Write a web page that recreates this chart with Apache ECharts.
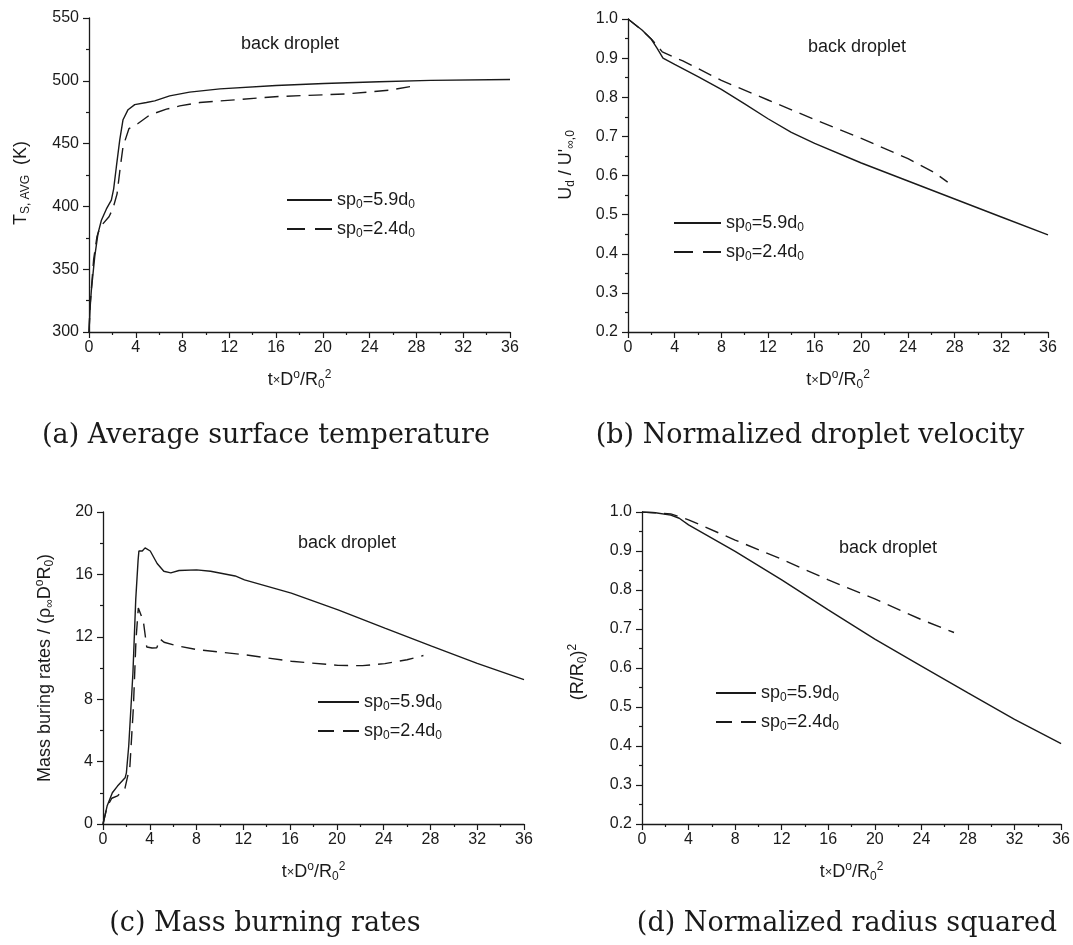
<!DOCTYPE html>
<html>
<head>
<meta charset="utf-8">
<script src="https://cdn.jsdelivr.net/npm/echarts@6/dist/echarts.min.js"></script>
<style>
  html, body { margin: 0; padding: 0; background: #fff; }
  #chart { width: 1073px; height: 945px; }
</style>
</head>
<body>
<div id="chart"></div>
<script>
// (a) average surface temperature
const tTempSolid = [0, 0.1, 0.2, 0.49, 0.77, 1.06, 1.49, 1.91, 2.11, 2.34, 2.63, 2.91, 3.34, 3.91, 4.91, 5.62, 6.9, 8.6, 11.2, 16, 20.1, 24.8, 29.2, 36];
const tempSolid = [300, 320, 333, 360, 378.5, 389, 398, 405, 414, 431.6, 453, 469, 477, 481, 482.7, 484, 488, 491, 493.6, 496.3, 497.9, 499.2, 500.3, 501];
const tTempDash = [0, 0.1, 0.4, 0.68, 0.97, 1.71, 2.05, 2.4, 2.68, 2.91, 3.42, 4.19, 5.19, 6.62, 7.76, 9.47, 16.2, 21.9, 25.7, 28];
const tempDash = [300, 322, 358, 376, 383.8, 391.7, 398.4, 410, 431.6, 447.6, 462, 466, 472.8, 477.4, 480, 482.7, 487.5, 489.5, 492.5, 496.3];

// (b) normalized droplet velocity
const tVelSolid = [0, 1.2, 2.0, 2.5, 3.0, 4.0, 6.0, 8.0, 10, 12, 14, 16, 20, 24, 28, 32, 36];
const velSolid = [1.0, 0.972, 0.948, 0.925, 0.9, 0.884, 0.853, 0.82, 0.783, 0.745, 0.71, 0.682, 0.632, 0.586, 0.54, 0.494, 0.448];
const tVelDash = [0, 1.2, 2.06, 2.94, 4.1, 4.7, 8, 12, 16, 20, 24, 26.3, 27.4];
const velDash = [1.0, 0.971, 0.947, 0.916, 0.9, 0.893, 0.843, 0.793, 0.743, 0.695, 0.643, 0.607, 0.583];

// (c) mass burning rates
const tMassSolid = [0, 0.35, 0.8, 1.24, 1.89, 2.0, 2.2, 2.56, 2.8, 3.0, 3.07, 3.36, 3.6, 4.04, 4.63, 5.2, 5.8, 6.5, 8.0, 9.2, 11.3, 12.1, 16.1, 20.1, 24.1, 28.1, 32, 36];
const massSolid = [0, 1.15, 2.0, 2.43, 2.96, 3.28, 5.0, 9.7, 14.4, 16.9, 17.5, 17.5, 17.7, 17.5, 16.7, 16.2, 16.1, 16.25, 16.29, 16.2, 15.9, 15.65, 14.8, 13.73, 12.56, 11.4, 10.3, 9.25];
const tMassDash = [0, 0.35, 0.75, 1.24, 1.88, 2.3, 2.6, 2.82, 3.02, 3.45, 3.74, 4.2, 4.6, 4.88, 5.22, 6.3, 8.0, 12.1, 16.1, 20.1, 22.2, 24.1, 26.0, 27.4];
const massDash = [0, 1.1, 1.65, 1.8, 2.3, 3.7, 7.5, 11.8, 13.85, 13.0, 11.35, 11.28, 11.3, 11.86, 11.65, 11.43, 11.18, 10.85, 10.43, 10.17, 10.15, 10.28, 10.53, 10.8];

// (d) normalized radius squared
const tRadSolid = [0, 1.16, 2.47, 3.2, 4, 8, 12, 16, 20, 24, 28, 32, 36];
const radSolid = [1.0, 0.998, 0.992, 0.984, 0.967, 0.899, 0.826, 0.749, 0.674, 0.605, 0.536, 0.468, 0.406];
const tRadDash = [0, 1.16, 2.47, 3.2, 4, 8, 12, 16, 20, 24, 26.8];
const radDash = [1.0, 0.998, 0.995, 0.988, 0.98, 0.928, 0.879, 0.826, 0.777, 0.724, 0.691];

const NAME_59 = 'sp0=5.9d0';
const NAME_24 = 'sp0=2.4d0';

const INK = '#1a1a1a';
const SANS = 'Liberation Sans, Arial, sans-serif';
const SERIF = 'DejaVu Serif, serif';

const rich = {
  n: { fontSize: 18, lineHeight: 22, color: INK, fontFamily: SANS },
  s: { fontSize: 12, lineHeight: 10, verticalAlign: 'bottom', color: INK, fontFamily: SANS },
  p: { fontSize: 12, lineHeight: 10, verticalAlign: 'top', color: INK, fontFamily: SANS },
  x: { fontSize: 13, lineHeight: 22, color: INK, fontFamily: SANS },
};

const pairs = (xs, ys) => xs.map((x, i) => [x, ys[i]]);

const chart = echarts.init(document.getElementById('chart'), null, { renderer: 'canvas' });

const grids = [
  { left: 89, top: 18, width: 421, height: 314 },
  { left: 628, top: 19, width: 420, height: 313 },
  { left: 103, top: 512, width: 421, height: 312 },
  { left: 642, top: 512, width: 421, height: 312 },
];

const axisCommon = {
  axisLine: { lineStyle: { color: INK, width: 1.3 } },
  axisTick: { inside: false, length: 6, lineStyle: { color: INK, width: 1.2 } },
  minorTick: { show: true, splitNumber: 2, length: 3, lineStyle: { color: INK, width: 1.2 } },
  splitLine: { show: false },
  axisLabel: { color: INK, fontSize: 16, fontFamily: SANS },
};

const xAxisCfg = (gi) => ({
  type: 'value', gridIndex: gi, min: 0, max: 36, interval: 4,
  ...axisCommon,
  axisLabel: { ...axisCommon.axisLabel, margin: 8 },
  name: '{n|t}{x|×}{n|D}{p|o}{n|/R}{s|0}{p|2}',
  nameLocation: 'middle', nameGap: 37,
  nameTextStyle: { rich },
});

const yAxisCfg = (gi, min, max, interval, digits) => ({
  type: 'value', gridIndex: gi, min, max, interval,
  ...axisCommon,
  axisLabel: { ...axisCommon.axisLabel, margin: 10, formatter: (v) => v.toFixed(digits) },
});

const lineSeries = (name, gi, data, dashed) => ({
  type: 'line', name, xAxisIndex: gi, yAxisIndex: gi,
  data, symbol: 'none', smooth: false, silent: true,
  lineStyle: { color: INK, width: 1.4, type: dashed ? [14, 8] : 'solid' },
  itemStyle: { color: INK },
});

const legendCfg = (left, top, w) => ({
  orient: 'vertical', left, top, itemWidth: w, itemHeight: 14, itemGap: 9,
  selectedMode: false,
  itemStyle: { opacity: 0, color: 'transparent', borderWidth: 0 },
  data: [
    { name: NAME_59 },
    { name: NAME_24, lineStyle: { type: [Math.round(w * 0.4), Math.round(w * 0.22)] } },
  ],
  formatter: (name) => '{n|' + name.replace(/([pd])0/g, '$1}{s|0}{n|') + '}',
  textStyle: { rich },
});

const textEl = (x, y, text, opts) => ({
  type: 'text', x, y, silent: true,
  style: Object.assign({ text, fill: INK, align: 'center', verticalAlign: 'middle', font: '18px ' + SANS }, opts || {}),
});

const yTitle = (x, y, text) => ({
  type: 'text', x, y, rotation: Math.PI / 2, silent: true,
  style: { text, rich, fill: INK, align: 'center', verticalAlign: 'middle' },
});

const captionFont = { font: '27px ' + SERIF };

const option = {
  animation: false,
  backgroundColor: '#fff',
  grid: grids,
  xAxis: [0, 1, 2, 3].map(xAxisCfg),
  yAxis: [
    yAxisCfg(0, 300, 550, 50, 0),
    yAxisCfg(1, 0.2, 1.0, 0.1, 1),
    yAxisCfg(2, 0, 20, 4, 0),
    yAxisCfg(3, 0.2, 1.0, 0.1, 1),
  ],
  legend: [
    legendCfg(281, 186, 45),
    legendCfg(668, 209, 47),
    legendCfg(312, 688, 41),
    legendCfg(710, 679, 40),
  ],
  series: [
    lineSeries(NAME_59, 0, pairs(tTempSolid, tempSolid), false),
    lineSeries(NAME_24, 0, pairs(tTempDash, tempDash), true),
    lineSeries(NAME_59, 1, pairs(tVelSolid, velSolid), false),
    lineSeries(NAME_24, 1, pairs(tVelDash, velDash), true),
    lineSeries(NAME_59, 2, pairs(tMassSolid, massSolid), false),
    lineSeries(NAME_24, 2, pairs(tMassDash, massDash), true),
    lineSeries(NAME_59, 3, pairs(tRadSolid, radSolid), false),
    lineSeries(NAME_24, 3, pairs(tRadDash, radDash), true),
  ],
  graphic: [
    textEl(290, 44, 'back droplet'),
    textEl(857, 47, 'back droplet'),
    textEl(347, 543, 'back droplet'),
    textEl(888, 548, 'back droplet'),
    yTitle(21, 183, '{n|T}{s|S, AVG}{n|  (K)}'),
    yTitle(566, 165, '{n|U}{s|d}{n| / U\'}{s|∞,0}'),
    yTitle(45, 668, '{n|Mass buring rates / (ρ}{s|∞}{n|D}{p|o}{n|R}{s|0}{n|)}'),
    yTitle(578, 672, '{n|(R/R}{s|0}{n|)}{p|2}'),
    textEl(266, 436, '(a) Average surface temperature', captionFont),
    textEl(810, 436, '(b) Normalized droplet velocity', captionFont),
    textEl(265, 924, '(c) Mass burning rates', captionFont),
    textEl(847, 924, '(d) Normalized radius squared', captionFont),
  ],
};

chart.setOption(option);
</script>
</body>
</html>
